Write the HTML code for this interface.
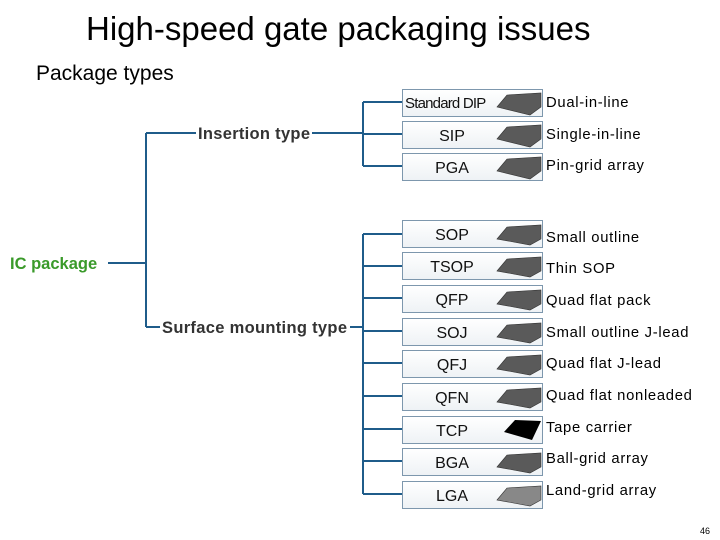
<!DOCTYPE html>
<html><head><meta charset="utf-8"><style>
body{margin:0;width:720px;height:540px;background:#fff;position:relative;overflow:hidden;font-family:"Liberation Sans",sans-serif}
.t{position:absolute;white-space:nowrap}
.box{position:absolute;left:402px;width:139px;height:26px;border:1px solid #7d97ad;background:linear-gradient(#fff,#eef2f5);box-sizing:content-box}
.box span{position:absolute;left:0;width:98px;text-align:center;top:6px;font-size:16px;color:#111;white-space:nowrap}
.lab{position:absolute;left:546px;font-size:14.8px;color:#000;letter-spacing:0.7px;white-space:nowrap}
</style></head><body>
<div class="t" style="left:86px;top:10px;font-size:33px">High-speed gate packaging issues</div>
<div class="t" style="left:36px;top:62px;font-size:21px">Package types</div>
<svg width="720" height="540" style="position:absolute;left:0;top:0">
<g stroke="#1f5c8a" stroke-width="2" fill="none">
<path d="M108 263H146M146 133V327M146 133H196M146 327H160M312 133H363M350 327H363"/>
<path d="M363 102V166M363 102H402M363 134H402M363 166H402"/>
<path d="M363 234V494M363 234H402M363 266H402M363 298H402M363 331H402M363 363H402M363 396H402M363 429H402M363 461H402M363 494H402"/>
</g>
<text x="10" y="269" font-size="16.5" font-weight="bold" fill="#3a9a2a" font-family="Liberation Sans">IC package</text>
<text x="198" y="139" font-size="16.5" font-weight="bold" fill="#333" font-family="Liberation Sans" textLength="112">Insertion type</text>
<text x="162" y="333" font-size="16.5" font-weight="bold" fill="#333" font-family="Liberation Sans" textLength="185">Surface mounting type</text>
</svg>
<div class="box" style="top:89px"><span style="font-size:15px;left:2px;width:auto;letter-spacing:-0.8px;top:5px">Standard DIP</span></div>
<div class="box" style="top:121px"><span>SIP</span></div>
<div class="box" style="top:153px"><span>PGA</span></div>
<div class="box" style="top:220px"><span>SOP</span></div>
<div class="box" style="top:252px"><span>TSOP</span></div>
<div class="box" style="top:285px"><span>QFP</span></div>
<div class="box" style="top:318px"><span>SOJ</span></div>
<div class="box" style="top:350px"><span>QFJ</span></div>
<div class="box" style="top:383px"><span>QFN</span></div>
<div class="box" style="top:416px"><span>TCP</span></div>
<div class="box" style="top:448px"><span>BGA</span></div>
<div class="box" style="top:481px"><span>LGA</span></div>
<svg width="720" height="540" style="position:absolute;left:0;top:0">
<g fill="#5a5a5a" stroke="#333" stroke-width="0.6">
<polygon points="497,107 507,95 541,93 541,107 530,115"/>
<polygon points="497,139 507,127 541,125 541,139 530,147"/>
<polygon points="497,171 507,159 541,157 541,171 530,179"/>
<polygon points="497,239 507,227 541,225 541,239 530,245"/>
<polygon points="497,271 507,259 541,257 541,271 530,277"/>
<polygon points="497,304 507,292 541,290 541,304 530,310"/>
<polygon points="497,337 507,325 541,323 541,337 530,343"/>
<polygon points="497,369 507,357 541,355 541,369 530,375"/>
<polygon points="497,402 507,390 541,388 541,402 530,408"/>
<polygon points="497,467 507,455 541,453 541,467 530,473"/>
<polygon points="497,500 507,488 541,486 541,500 530,506" fill="#888"/>
</g>
<polygon points="504,432 515,420 541,421 532,440" fill="#000"/>
</svg>
<div class="lab" style="top:95px">Dual-in-line</div>
<div class="lab" style="top:127px">Single-in-line</div>
<div class="lab" style="top:158px">Pin-grid array</div>
<div class="lab" style="top:230px">Small outline</div>
<div class="lab" style="top:261px">Thin SOP</div>
<div class="lab" style="top:293px">Quad flat pack</div>
<div class="lab" style="top:325px">Small outline J-lead</div>
<div class="lab" style="top:356px">Quad flat J-lead</div>
<div class="lab" style="top:388px">Quad flat nonleaded</div>
<div class="lab" style="top:420px">Tape carrier</div>
<div class="lab" style="top:451px">Ball-grid array</div>
<div class="lab" style="top:483px">Land-grid array</div>
<div class="t" style="left:700px;top:526px;font-size:9px">46</div>
</body></html>
